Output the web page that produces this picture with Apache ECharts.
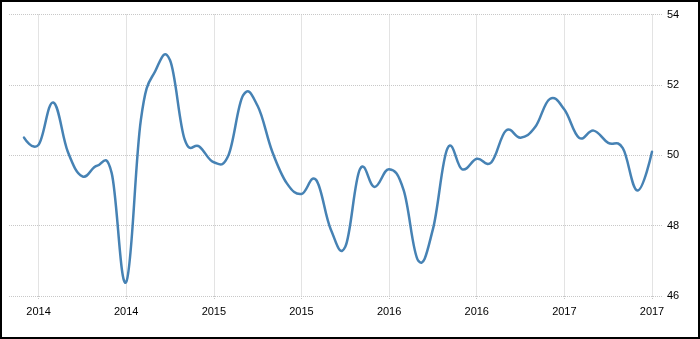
<!DOCTYPE html>
<html>
<head>
<meta charset="utf-8">
<script src="https://cdn.jsdelivr.net/npm/echarts@6/dist/echarts.min.js"></script>
<style>
html,body{margin:0;padding:0;background:#fff;}
#c{position:absolute;left:0;top:0;width:700px;height:339px;}
#frame{position:absolute;left:0;top:0;width:700px;height:339px;box-sizing:border-box;border:2px solid #000;pointer-events:none;}
</style>
</head>
<body>
<div id="c"></div>
<div id="frame"></div>
<script>
// Monthly categories, Dec 2013 .. Jul 2017
const months = ["2013-12","2014-01","2014-02","2014-03","2014-04","2014-05","2014-06","2014-07","2014-08","2014-09","2014-10","2014-11","2014-12",
"2015-01","2015-02","2015-03","2015-04","2015-05","2015-06","2015-07","2015-08","2015-09","2015-10","2015-11","2015-12",
"2016-01","2016-02","2016-03","2016-04","2016-05","2016-06","2016-07","2016-08","2016-09","2016-10","2016-11","2016-12",
"2017-01","2017-02","2017-03","2017-04","2017-05","2017-06","2017-07"];
const values = [50.5,50.3,51.5,50.1,49.4,49.7,49.5,46.4,51.0,52.4,52.7,50.45,50.25,
49.8,50.0,51.7,51.4,50.1,49.2,48.9,49.3,47.9,47.4,49.6,49.1,
49.6,49.0,47.0,47.9,50.2,49.6,49.9,49.8,50.7,50.5,50.8,51.6,
51.3,50.5,50.7,50.35,50.2,49.0,50.1];
const yTicks = [46,48,50,52,54];

const chart = echarts.init(document.getElementById('c'), null, {renderer:'canvas'});
const showIdx = (i) => (i - 1) % 6 === 0 && i >= 1;
const gridStyle = {color:'#c8c8c8', type:'dotted', width:1};
const font = {fontFamily:'"Liberation Sans", Arial, sans-serif', fontSize:11, color:'#000'};

// spline path through screen points (cardinal-style, smoothing 1.5)
function splinePath(p) {
  const s = 1.5, den = s + 1;
  let d = 'M' + p[0][0] + ' ' + p[0][1];
  const cps = p.map((pt, i) => {
    if (i === 0 || i === p.length - 1) return [pt, pt];
    const prev = p[i-1], next = p[i+1];
    let lx = (s*pt[0] + prev[0]) / den, ly = (s*pt[1] + prev[1]) / den;
    let rx = (s*pt[0] + next[0]) / den, ry = (s*pt[1] + next[1]) / den;
    let corr = 0;
    if (rx !== lx) corr = ((ry - ly) * (rx - pt[0])) / (rx - lx) + pt[1] - ry;
    ly += corr; ry += corr;
    return [[lx, ly], [rx, ry]];
  });
  for (let i = 1; i < p.length; i++) {
    const c1 = cps[i-1][1], c2 = cps[i][0];
    d += ' C' + c1[0] + ' ' + c1[1] + ' ' + c2[0] + ' ' + c2[1] + ' ' + p[i][0] + ' ' + p[i][1];
  }
  return d;
}

chart.setOption({
  animation:false,
  backgroundColor:'#fff',
  grid:[
    {left:9, right:37, top:14.5, bottom:43, containLabel:false},
    {left:24, right:48, top:14.5, bottom:43, containLabel:false}
  ],
  xAxis:[
    {gridIndex:0, type:'value', show:false, min:0, max:1},
    {gridIndex:1, type:'category', data:months, boundaryGap:false,
     axisLine:{show:false},
     axisTick:{show:true, length:4, interval:(i)=>showIdx(i), lineStyle:gridStyle},
     axisLabel:Object.assign({interval:(i)=>showIdx(i), margin:10,
        formatter:(v)=>v.slice(0,4)}, font),
     splitLine:{show:true, interval:(i)=>showIdx(i), lineStyle:gridStyle}}
  ],
  yAxis:[
    {gridIndex:0, type:'value', position:'right', min:yTicks[0], max:yTicks[yTicks.length-1], interval:2,
     axisLine:{show:false}, axisTick:{show:false},
     axisLabel:Object.assign({margin:4}, font),
     splitLine:{show:true, lineStyle:gridStyle}},
    {gridIndex:1, type:'value', show:false, min:yTicks[0], max:yTicks[yTicks.length-1]}
  ],
  series:[{
    type:'custom', xAxisIndex:1, yAxisIndex:1,
    data: values.map((v, i) => [i, v]),
    encode:{x:0, y:1},
    clip:false,
    renderItem: function (params, api) {
      if (params.dataIndex !== 0) return null;
      const pts = values.map((v, i) => api.coord([i, v]));
      return {
        type:'path',
        shape:{pathData: splinePath(pts)},
        style:{fill:null, stroke:'#4682b4', lineWidth:2.5, lineJoin:'round', lineCap:'round'}
      };
    }
  }]
});
</script>
</body>
</html>
